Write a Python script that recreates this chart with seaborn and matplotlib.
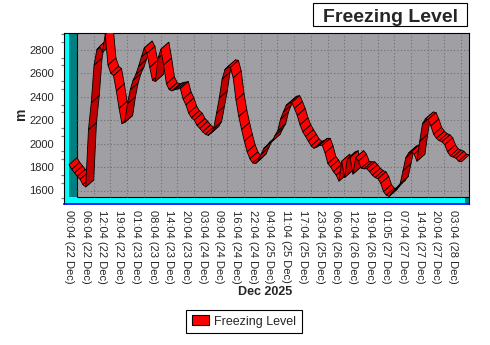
import matplotlib
matplotlib.use("Agg")
import matplotlib.pyplot as plt
from matplotlib.collections import PolyCollection
from matplotlib.patches import Rectangle, Patch
from matplotlib.ticker import MultipleLocator
import numpy as np
import seaborn as sns

# ---- data -------------------------------------------------------------
tick_labels = [
    "00:04 (22 Dec)", "06:04 (22 Dec)", "12:04 (22 Dec)", "19:04 (22 Dec)",
    "01:04 (23 Dec)", "08:04 (23 Dec)", "14:04 (23 Dec)", "20:04 (23 Dec)",
    "03:04 (24 Dec)", "09:04 (24 Dec)", "16:04 (24 Dec)", "22:04 (24 Dec)",
    "04:04 (25 Dec)", "11:04 (25 Dec)", "17:04 (25 Dec)", "23:04 (25 Dec)",
    "06:04 (26 Dec)", "12:04 (26 Dec)", "19:04 (26 Dec)", "01:05 (27 Dec)",
    "07:04 (27 Dec)", "14:04 (27 Dec)", "20:04 (27 Dec)", "03:04 (28 Dec)",
]
samples_per_label = 6

# freezing level (m), one value per sample
freezing_level = [
    1850, 1810, 1780, 1750, 1725, 1680, 1660, 2150, 2380, 2700,
    2830, 2860, 2810, 2960, 2700, 2630, 2610, 2480, 2330, 2200,
    2210, 2370, 2490, 2570, 2620, 2690, 2770, 2845, 2800, 2680,
    2570, 2560, 2760, 2835, 2700, 2540, 2490, 2480, 2490, 2495,
    2500, 2410, 2360, 2290, 2250, 2230, 2185, 2160, 2130, 2110,
    2100, 2120, 2160, 2290, 2420, 2580, 2660, 2685, 2680, 2590,
    2400, 2260, 2150, 2050, 1960, 1900, 1865, 1860, 1885, 1940,
    1990, 2010, 2040, 2050, 2100, 2140, 2240, 2300, 2355, 2375,
    2380, 2330, 2270, 2190, 2130, 2090, 2050, 2010, 1990, 2000,
    2015, 2015, 1950, 1860, 1830, 1790, 1760, 1710, 1880, 1740,
    1900, 1910, 1770, 1910, 1880, 1820, 1815, 1815, 1790, 1760,
    1740, 1730, 1690, 1620, 1590, 1580, 1610, 1640, 1660, 1690,
    1800, 1910, 1950, 1960, 1940, 1880, 2050, 2200, 2240, 2235,
    2180, 2110, 2075, 2055, 2045, 2020, 1960, 1925, 1915, 1905,
    1880, 1875,
]
series_name = "Freezing Level"
x_title = "Dec 2025"
y_title = "m"
y_major = list(range(1600, 2801, 200))

# ---- style -------------------------------------------------------------
sns.set_style("white")
plt.rcParams["font.family"] = ["Liberation Sans", "DejaVu Sans"]

W, H = 490, 345
fig = plt.figure(figsize=(W / 100, H / 100), dpi=100)


def fx(p):
    return p / W


def fy(p):
    return 1 - p / H


# plot box in pixels
AX_L, AX_R, AX_T, AX_B = 63.5, 469.0, 32.5, 203.5
ax = fig.add_axes([fx(AX_L), fy(AX_B), (AX_R - AX_L) / W, (AX_B - AX_T) / H])

# scale: first label at x=69px, 16.7px per label step; 1600 m at 190.5px
X0_PX = 69.0
PX_PER_SAMPLE = 16.7 / samples_per_label
Y_REF, Y_REF_PX, PX_PER_M = 1600, 190.5, 0.1172
xlim = ((AX_L - X0_PX) / PX_PER_SAMPLE, (AX_R - X0_PX) / PX_PER_SAMPLE)
ylim = (Y_REF - (AX_B - Y_REF_PX) / PX_PER_M, Y_REF + (Y_REF_PX - AX_T) / PX_PER_M)

# 3D depth of walls / ribbon
DEPTH_X = 8 / PX_PER_SAMPLE
DEPTH_Y = 7 / PX_PER_M
wall_bottom = Y_REF - (196.7 - Y_REF_PX) / PX_PER_M
floor_right = (465 - X0_PX) / PX_PER_SAMPLE

sample_idx = np.arange(len(freezing_level))
sns.lineplot(x=sample_idx, y=freezing_level, ax=ax, lw=0, legend=False)

ax.set_xlim(*xlim)
ax.set_ylim(*ylim)
ax.set_facecolor("#A0A0A4")

# walls and floor
ax.add_patch(Rectangle((xlim[0], ylim[0]), -xlim[0], ylim[1] - ylim[0],
                       facecolor="#00FFFF", edgecolor="none", zorder=1))
ax.add_patch(Rectangle((0, wall_bottom), DEPTH_X, ylim[1] - wall_bottom,
                       facecolor="#008080", edgecolor="none", zorder=1))
ax.add_patch(Rectangle((xlim[0], ylim[0]), floor_right - xlim[0], wall_bottom - ylim[0],
                       facecolor="#00FFFF", edgecolor="none", zorder=1))
ax.add_patch(Rectangle((floor_right, ylim[0]), xlim[1] - floor_right, wall_bottom - ylim[0],
                       facecolor="#008080", edgecolor="none", zorder=1))
ax.hlines(wall_bottom, DEPTH_X, xlim[1], colors="black", lw=0.8, zorder=1.2)
ax.vlines(DEPTH_X, wall_bottom, ylim[1], colors="black", lw=0.8, zorder=1.2)

# dotted grid on the back wall
grid_kw = dict(colors="#6E6E6E", linestyles=(0, (1, 2)), lw=0.8, zorder=1.5)
ax.hlines(y_major, DEPTH_X, xlim[1], **grid_kw)
label_pos = np.arange(len(tick_labels)) * samples_per_label
ax.vlines(label_pos[1:] + DEPTH_X, wall_bottom, ylim[1], **grid_kw)

# ribbon: one quad per segment, front edge to back edge
verts, colors = [], []
for i in range(len(freezing_level) - 1):
    x0, x1 = sample_idx[i], sample_idx[i + 1]
    v0, v1 = freezing_level[i], freezing_level[i + 1]
    h = DEPTH_Y / 2
    verts.append([(x0, v0 - h), (x1, v1 - h),
                  (x1 + DEPTH_X, v1 + h), (x0 + DEPTH_X, v0 + h)])
    # faces turned toward the viewer are bright, undersides darker
    dx_px = (x1 - x0) * PX_PER_SAMPLE
    dy_px = (v1 - v0) * PX_PER_M
    cross = dx_px * 7 - dy_px * 8
    colors.append("#FF0000" if cross > 0 else "#C00000")
ax.add_collection(PolyCollection(verts, facecolors=colors, edgecolors="black",
                                 linewidths=0.6, zorder=4))

# axes
ax.set_xticks(label_pos)
ax.set_xticklabels(tick_labels, rotation=270, fontsize=8)
ax.tick_params(axis="x", direction="inout", length=8, width=1.1,
               color="#808080", pad=1)
ax.set_yticks(y_major)
ax.yaxis.set_minor_locator(MultipleLocator(200 / 3))
ax.tick_params(axis="y", which="major", direction="out", length=5, width=1.1,
               color="#808080", labelsize=8, pad=2)
ax.tick_params(axis="y", which="minor", direction="out", length=2.5, width=0.9,
               color="#808080", left=True)
for side in ("left", "top", "right"):
    ax.spines[side].set_color("black")
    ax.spines[side].set_linewidth(0.8)
ax.spines["bottom"].set_color("#0000FF")
ax.spines["bottom"].set_linewidth(1.2)
ax.set_xlabel("")
ax.set_ylabel("")

# titles
fig.text(fx(21), fy(114), y_title, rotation=90, ha="center", va="center",
         fontsize=10, fontweight="bold")
fig.text(fx(265), fy(295), x_title, ha="center", va="baseline",
         fontsize=9, fontweight="bold")
fig.add_artist(Rectangle((fx(313.3), fy(26)), (466.7 - 313.3) / W, (26 - 3.3) / H,
                         transform=fig.transFigure, facecolor="white",
                         edgecolor="black", lw=0.8))
fig.text(fx(390), fy(21.7), series_name, ha="center", va="baseline",
         fontsize=14, fontweight="bold")

leg = fig.legend(handles=[Patch(facecolor="#FF0000", edgecolor="black", linewidth=0.8)],
                 labels=[series_name], loc="center",
                 bbox_to_anchor=(fx(243.8), fy(321.5)), fontsize=9,
                 frameon=True, fancybox=False, edgecolor="black", framealpha=1,
                 handlelength=1.36, handleheight=0.8, handletextpad=0.42,
                 borderpad=0.45, borderaxespad=0)
leg.get_frame().set_linewidth(0.8)

fig.savefig("out.png", dpi=100)
